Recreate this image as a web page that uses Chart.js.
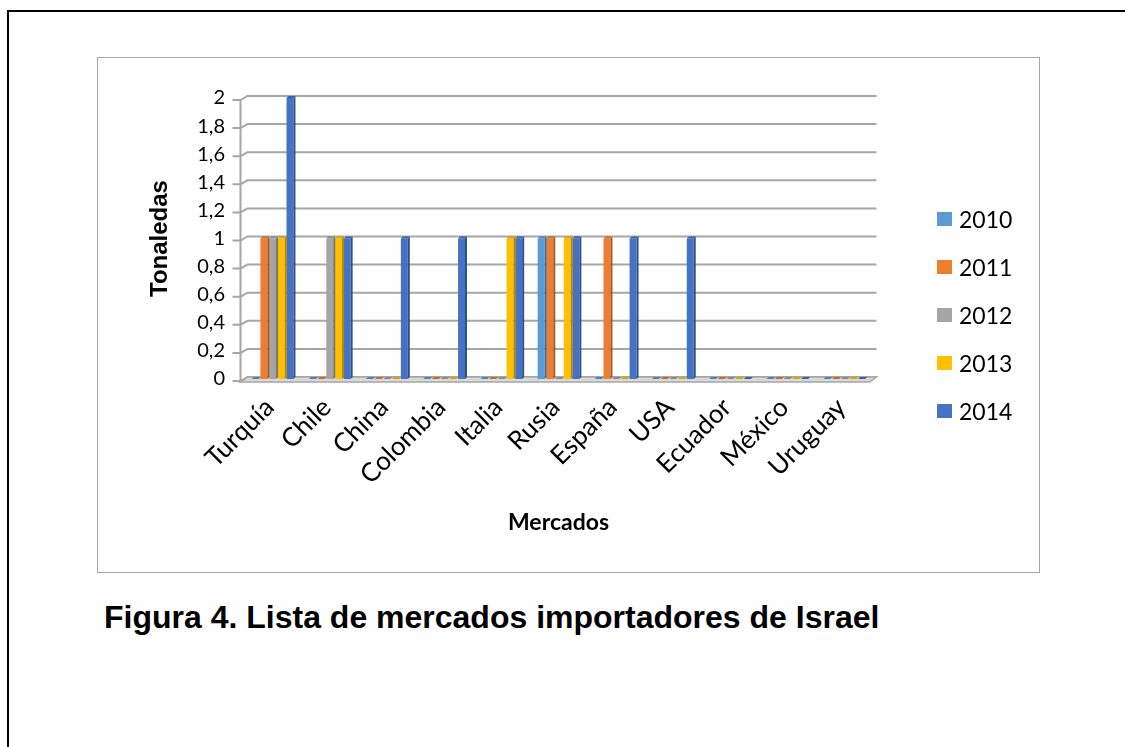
<!DOCTYPE html>
<html>
<head>
<meta charset="utf-8">
<script src="https://cdn.jsdelivr.net/npm/chart.js@4.4.1/dist/chart.umd.min.js"></script>
<style>
html,body{margin:0;padding:0;background:#fff;width:1125px;height:747px;overflow:hidden}
.page{position:absolute;left:7px;top:10px;width:1200px;height:800px;border-left:2px solid #000;border-top:2px solid #000;box-sizing:border-box}
.chart-box{position:absolute;left:97px;top:57px;width:943px;height:516px;border:1px solid #a6a6a6;box-sizing:border-box;background:#fff}
.chart-box canvas{position:absolute;left:0;top:0}
.legend{position:absolute;left:937px;top:195px;font:23px Lato,sans-serif;color:#000}
.legend .item{height:48px;display:flex;align-items:center}
.legend .sw{width:15px;height:14px;margin-right:7px}
.caption{position:absolute;left:104px;top:599px;font:bold 32px "Liberation Sans",Arial,sans-serif;color:#000;white-space:nowrap}
</style>
</head>
<body>
<div class="page"></div>
<div class="chart-box"><canvas id="c" width="941" height="514"></canvas></div>
<div class="legend" id="legend"></div>
<div class="caption">Figura 4. Lista de mercados importadores de Israel</div>
<script>
const markets = ['Turquía','Chile','China','Colombia','Italia','Rusia','España','USA','Ecuador','México','Uruguay'];
const years = ['2010','2011','2012','2013','2014'];
const t2010 = [0,0,0,0,0,1,0,0,0,0,0];
const t2011 = [1,0,0,0,0,1,1,0,0,0,0];
const t2012 = [1,1,0,0,0,0,0,0,0,0,0];
const t2013 = [1,1,0,0,1,1,0,0,0,0,0];
const t2014 = [2,1,1,1,1,1,1,1,0,0,0];
const colors = ['#5B9BD5','#ED7D31','#A5A5A5','#FFC000','#4472C4'];

const yMax = 2, yStep = 0.2;
const HX = 3.5, HY = 2;   // half depth of the 3d box
const BD = 2;             // bar depth

function shade(hex, f){
  const n = parseInt(hex.slice(1),16);
  const r = Math.round(((n>>16)&255)*f), g = Math.round(((n>>8)&255)*f), b = Math.round((n&255)*f);
  return `rgb(${Math.min(r,255)},${Math.min(g,255)},${Math.min(b,255)})`;
}

// back wall gridlines, axis edge and the floor
const wall3d = {
  id:'wall3d',
  beforeDatasetsDraw(chart){
    const {ctx, chartArea:a, scales:{y}} = chart;
    ctx.save();
    ctx.strokeStyle = '#a6a6a6'; ctx.lineWidth = 2;
    y.ticks.forEach(t=>{
      const py = y.getPixelForValue(t.value);
      ctx.beginPath();
      ctx.moveTo(a.left-HX-8, py+HY);
      ctx.lineTo(a.left-HX, py+HY);
      ctx.lineTo(a.left+HX, py-HY);
      ctx.lineTo(a.right+HX, py-HY);
      ctx.stroke();
    });
    ctx.beginPath();
    ctx.moveTo(a.left-HX, a.top+HY);
    ctx.lineTo(a.left-HX, a.bottom+HY);
    ctx.stroke();
    // floor
    const b = y.getPixelForValue(0);
    ctx.fillStyle = '#d9d9d9'; ctx.lineWidth = 1.5;
    ctx.beginPath();
    ctx.moveTo(a.left-HX, b+HY+1);
    ctx.lineTo(a.right-HX, b+HY+1);
    ctx.lineTo(a.right+HX, b-HY);
    ctx.lineTo(a.left+HX, b-HY);
    ctx.closePath();
    ctx.fill(); ctx.stroke();
    ctx.restore();
  },
  afterDatasetsDraw(chart){
    const {ctx} = chart;
    ctx.save();
    chart.data.datasets.forEach((ds,i)=>{
      chart.getDatasetMeta(i).data.forEach(el=>{
        const {x,y,base,width} = el.getProps(['x','y','base','width'],true);
        const l = x-width/2, r = x+width/2;
        // side face
        ctx.fillStyle = shade(ds.backgroundColor,0.7);
        ctx.beginPath();
        ctx.moveTo(r,y); ctx.lineTo(r+BD,y-BD); ctx.lineTo(r+BD,base-BD); ctx.lineTo(r,base);
        ctx.closePath(); ctx.fill();
        // top face
        ctx.fillStyle = shade(ds.backgroundColor,0.85);
        ctx.beginPath();
        ctx.moveTo(l,y); ctx.lineTo(l+BD,y-BD); ctx.lineTo(r+BD,y-BD); ctx.lineTo(r,y);
        ctx.closePath(); ctx.fill();
      });
    });
    ctx.restore();
  }
};

const series = [t2010,t2011,t2012,t2013,t2014];
const chart = new Chart(document.getElementById('c'),{
  type:'bar',
  data:{
    labels:markets,
    datasets:years.map((yr,i)=>({label:yr,data:series[i],backgroundColor:colors[i],borderWidth:0,
      categoryPercentage:0.76,barPercentage:0.8}))
  },
  options:{
    responsive:false,animation:false,
    layout:{padding:{left:48,top:40,right:166,bottom:36}},
    plugins:{legend:{display:false},tooltip:{enabled:false}},
    scales:{
      x:{
        grid:{display:false,drawTicks:false},border:{display:false},
        ticks:{color:'#000',font:{family:'Lato',size:26},minRotation:45,maxRotation:45,padding:13,labelOffset:-3,autoSkip:false},
        title:{display:true,text:'Mercados',color:'#000',font:{family:'Lato',size:23,weight:'bold'},padding:0},
        afterFit(s){ s.height = 157; }
      },
      y:{
        min:0,max:yMax,
        grid:{display:false,drawTicks:false},border:{display:false},
        ticks:{stepSize:yStep,color:'#000',font:{family:'Lato',size:20},padding:19,
          callback:v=>String(Number(v.toFixed(1))).replace('.',',')},
        title:{display:true,text:'Tonaledas',color:'#000',font:{family:'"Liberation Sans"',size:24,weight:'bold'},padding:0},
        afterFit(s){ s.width = 98; }
      }
    }
  },
  plugins:[wall3d]
});

// legend as html
const lg = document.getElementById('legend');
chart.data.datasets.forEach(ds=>{
  const d = document.createElement('div'); d.className='item';
  d.innerHTML = `<span class="sw" style="background:${ds.backgroundColor}"></span><span>${ds.label}</span>`;
  lg.appendChild(d);
});
</script>
</body>
</html>
